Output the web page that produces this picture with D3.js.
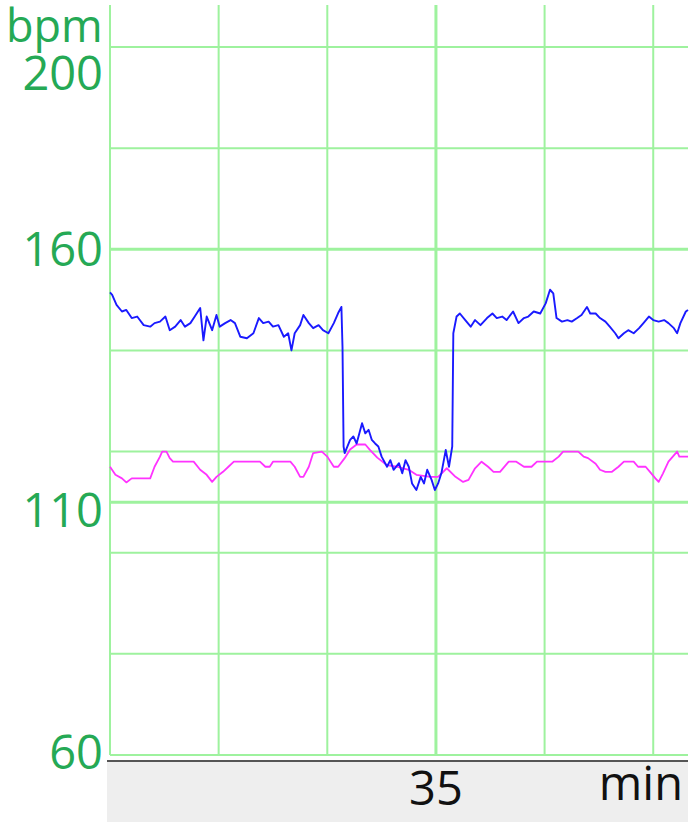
<!DOCTYPE html>
<html><head><meta charset="utf-8">
<script src="https://cdn.jsdelivr.net/npm/d3@7/dist/d3.min.js"></script>
<style>html,body{margin:0;padding:0;background:#fff;}svg{display:block;}</style>
</head><body>
<svg id="chart" width="700" height="832"></svg>
<script>
// ---- data (time in minutes, heart rate in bpm) ----
const yTickValues = [200, 160, 110, 60];
const yGridValues = [200, 180, 160, 140, 120, 110, 100, 80, 60];
const yBoldValues = [160, 110];
const xGridValues = [32, 33, 34, 35, 36, 37];
const xTickValues = [35];
const xBoldValues = [35];
const yUnit = "bpm";
const xUnit = "min";

const fhrTime = [32.00,32.02,32.06,32.11,32.15,32.20,32.25,32.31,32.37,32.41,32.46,32.51,32.55,32.60,32.65,32.69,32.74,32.78,32.83,32.86,32.89,32.94,32.98,33.01,33.06,33.11,33.15,33.20,33.26,33.32,33.37,33.41,33.46,33.50,33.55,33.60,33.64,33.67,33.70,33.75,33.78,33.83,33.87,33.92,33.96,34.01,34.06,34.10,34.13,34.14,34.15,34.16,34.21,34.24,34.27,34.32,34.35,34.38,34.41,34.44,34.47,34.50,34.55,34.58,34.61,34.66,34.69,34.72,34.75,34.78,34.82,34.86,34.89,34.92,34.96,34.99,35.02,35.05,35.09,35.12,35.15,35.16,35.19,35.22,35.27,35.32,35.36,35.41,35.47,35.52,35.56,35.61,35.65,35.71,35.76,35.81,35.85,35.90,35.96,36.01,36.05,36.08,36.11,36.16,36.21,36.25,36.30,36.34,36.39,36.42,36.47,36.51,36.56,36.60,36.65,36.68,36.73,36.77,36.82,36.87,36.91,36.96,37.00,37.05,37.10,37.14,37.19,37.22,37.25,37.30,37.32];
const fhrValue = [151.5,151,149,147.7,148,146.4,146.7,145,144.7,145.4,145.7,146.7,144,144.7,146,144.7,145.4,146.7,148.4,142,146.7,144,147,144.7,145.4,146,145.4,142.7,142.4,143.4,146.4,145.4,145.7,144.7,145,142.7,143.4,140,143.4,145,147,145.4,144.4,145,144,143.4,145.4,147.4,148.6,140.7,121,119.7,122.3,123,121.6,125.6,123.6,124.3,122.3,121.6,121,119,117,118.3,116.4,117.7,115.7,118.3,117,113.7,112.4,115,113.7,116.4,114.4,112.4,113.7,115.7,120.3,117,121,143.4,146.7,147.3,146,144.7,146,145,146.4,147.3,146.4,146.7,146,147.7,145.4,146.4,146.7,147.7,147.3,149.3,152,151.3,146.4,145.7,146,145.7,146.4,147,148.6,147.3,147.3,146.4,145.7,144.7,143.4,142.4,143.4,144,143.4,144.4,145.4,146.7,146,145.7,146,145.4,144.4,143.4,145.4,147.7,148];

const mhrTime = [32.00,32.05,32.11,32.15,32.20,32.37,32.41,32.46,32.48,32.52,32.55,32.58,32.77,32.83,32.89,32.94,32.98,33.04,33.09,33.14,33.38,33.43,33.47,33.50,33.66,33.70,33.75,33.78,33.83,33.87,33.95,34.00,34.06,34.10,34.16,34.21,34.27,34.35,34.39,34.46,34.55,34.64,34.75,34.82,34.95,35.02,35.10,35.18,35.25,35.30,35.36,35.42,35.48,35.53,35.59,35.67,35.74,35.81,35.88,35.93,36.07,36.13,36.17,36.31,36.36,36.40,36.47,36.51,36.56,36.62,36.68,36.73,36.82,36.86,36.93,36.97,37.02,37.05,37.09,37.14,37.18,37.22,37.24,37.32];
const mhrValue = [117,115.4,114.7,113.9,114.7,114.7,117,119,120,120,118.7,118,118,116.4,115.4,114,115,116,117,118,118,117,117,118,118,117,115,115,117,119.7,120,119,117,117,118.7,120.4,121.4,121.4,120.4,118.8,117.3,117,116.4,115.4,115,115,116.7,115,114,114.4,116.7,118,117,116,116,118,118,117,117,118,118,119,120,120,119,118.7,117.6,116.4,116,116,117,118,118,117,117,116,114.7,114,115.7,118,119,120,119,119];

// ---- drawing ----
const svg = d3.select("#chart");
const x = d3.scaleLinear().domain([32, 37.32]).range([110, 688]);
const y = d3.scaleLinear().domain([60, 200]).range([755, 47]);
const plotTop = 5;
const gridColor = "#9ef29e";
const labelColor = "#25a955";
const font = "'Open Sans', 'Noto Sans', sans-serif";

// bottom band
svg.append("rect").attr("x", 107).attr("y", 761).attr("width", 688 - 107).attr("height", 822 - 761).attr("fill", "#eeeeee");
svg.append("line").attr("x1", 107).attr("x2", 688).attr("y1", 761).attr("y2", 761)
  .attr("stroke", "#555").attr("stroke-width", 2);

// grid
const g = svg.append("g");
g.selectAll("line.h").data(yGridValues).join("line")
  .attr("x1", x(32)).attr("x2", x(37.32))
  .attr("y1", d => y(d)).attr("y2", d => y(d))
  .attr("stroke", gridColor)
  .attr("stroke-width", d => yBoldValues.includes(d) ? 3 : 2);
g.selectAll("line.v").data(xGridValues).join("line")
  .attr("x1", d => x(d)).attr("x2", d => x(d))
  .attr("y1", plotTop).attr("y2", y(60))
  .attr("stroke", gridColor)
  .attr("stroke-width", d => xBoldValues.includes(d) ? 3 : 2);

// traces
const line = d3.line().x(d => x(d[0])).y(d => y(d[1]));
svg.append("path").datum(d3.zip(mhrTime, mhrValue)).attr("d", line)
  .attr("fill", "none").attr("stroke", "#ff33ff").attr("stroke-width", 1.8)
  .attr("stroke-linejoin", "round");
svg.append("path").datum(d3.zip(fhrTime, fhrValue)).attr("d", line)
  .attr("fill", "none").attr("stroke", "#1a1aff").attr("stroke-width", 1.9)
  .attr("stroke-linejoin", "round");

// y labels
const yLab = svg.append("g").attr("font-family", font).attr("font-size", 47)
  .attr("fill", labelColor).attr("text-anchor", "end");
yLab.selectAll("text").data(yTickValues).join("text")
  .attr("x", 103)
  .attr("y", d => Math.min(Math.max(y(d), 73), 752))
  .attr("dy", d => d === 110 ? "0.52em" : "0.36em")
  .text(d => d);
svg.append("text").attr("x", 6).attr("y", 42).attr("font-family", font)
  .attr("font-size", 45).attr("fill", labelColor).text(yUnit);

// x labels
svg.selectAll("text.xt").data(xTickValues).join("text")
  .attr("x", d => x(d)).attr("y", 805).attr("text-anchor", "middle")
  .attr("font-family", font).attr("font-size", 47).attr("fill", "#111")
  .text(d => d);
svg.append("text").attr("x", 683).attr("y", 800).attr("text-anchor", "end")
  .attr("font-family", font).attr("font-size", 47).attr("fill", "#111").text(xUnit);
</script>
</body></html>
